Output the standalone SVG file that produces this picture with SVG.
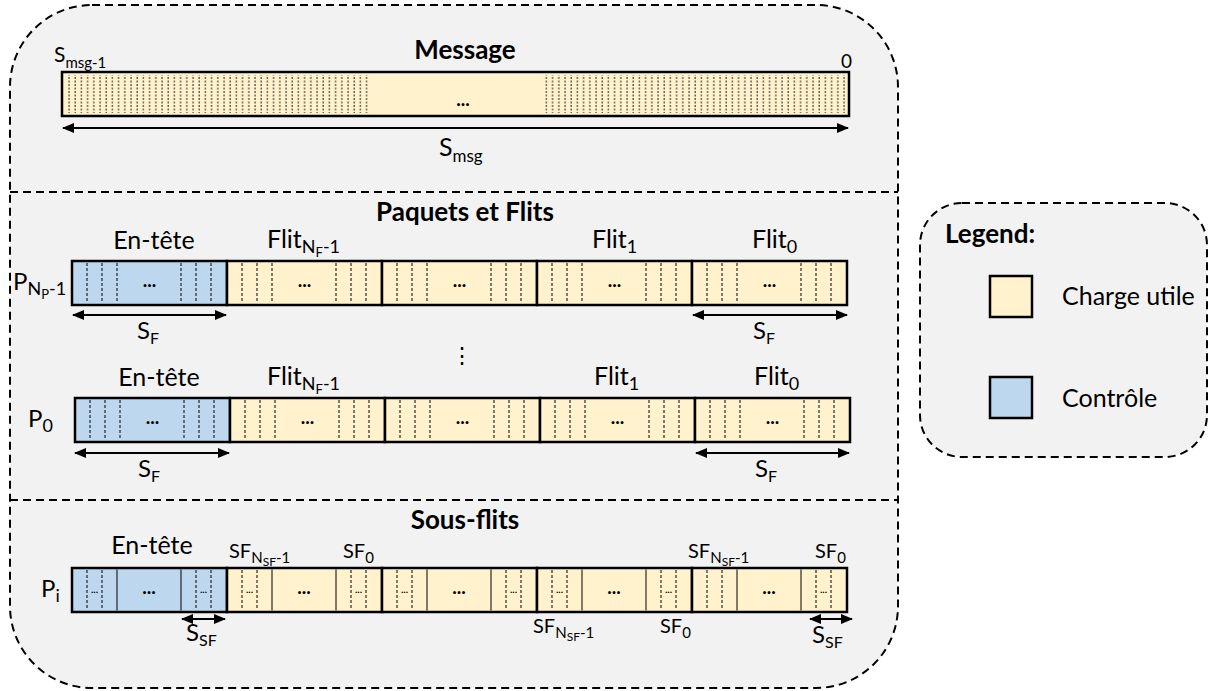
<svg xmlns="http://www.w3.org/2000/svg" width="1210" height="691" viewBox="0 0 1210 691">
<defs>
<style>
text{font-family:Lato,"Liberation Sans",sans-serif;fill:#000}
.title{font-weight:bold;font-size:26px}
.lbl{font-size:25px}
.sm{font-size:20px}
.leg{font-size:25px}
.dots{font-size:19px;font-weight:bold}
.tiny{font-size:10px;font-weight:bold}
.frame{fill:#f2f2f2;stroke:#000;stroke-width:2;stroke-dasharray:8 5}
.sep{fill:none;stroke:#000;stroke-width:2;stroke-dasharray:8 5}
.pay{fill:#fff2cc;stroke:#000;stroke-width:2.5}
.ctl{fill:#bdd7ee;stroke:#000;stroke-width:2.5}
.dl{fill:none;stroke:#000;stroke-width:1;stroke-dasharray:3 2}
.sl{fill:none;stroke:#000;stroke-width:1}
.arr{fill:none;stroke:#000;stroke-width:2;marker-start:url(#ah);marker-end:url(#ah)}
</style>
<marker id="ah" viewBox="0 0 12 10" refX="11" refY="5" markerWidth="12" markerHeight="10" markerUnits="userSpaceOnUse" orient="auto-start-reverse">
<path d="M0,0 L12,5 L0,10 z" fill="#000"/>
</marker>
<pattern id="msgdots" x="68" y="0" width="6.2" height="691" patternUnits="userSpaceOnUse">
<line x1="1" y1="0" x2="1" y2="691" stroke="#222" stroke-width="1" stroke-dasharray="2 1.5"/>
</pattern>
</defs>

<g id="container">
<rect class="frame" x="10" y="5" width="888" height="683" rx="82" ry="82"/>
<line class="sep" x1="10" y1="192" x2="898" y2="192"/>
<line class="sep" x1="10" y1="500" x2="898" y2="500"/>
</g>

<g id="message">
<text class="title" x="465" y="59" text-anchor="middle">Message</text>
<rect class="pay" x="62" y="72" width="787" height="44"/>
<rect x="67" y="75" width="302" height="38" fill="url(#msgdots)"/>
<rect x="545" y="75" width="301" height="38" fill="url(#msgdots)"/>
<text class="dots" x="463" y="106" text-anchor="middle">...</text>
<text x="54" y="62" font-size="21">S<tspan font-size="15" dy="6">msg-1</tspan></text>
<text x="841" y="68" font-size="19">0</text>
<text x="439" y="156" font-size="25">S<tspan font-size="17" dy="6">msg</tspan></text>
</g>

<g id="paquets">
<text class="title" x="465" y="221" text-anchor="middle">Paquets et Flits</text>
</g>

<g id="packet-np1">
<text x="13" y="290" font-size="24">P<tspan font-size="18" dy="5">N</tspan><tspan font-size="13" dy="4">P</tspan><tspan font-size="18" dy="-4">-1</tspan></text>
<text class="lbl" x="154" y="249" text-anchor="middle">En-tête</text>
<text class="lbl" x="267" y="248">Flit<tspan font-size="18" dy="5">N</tspan><tspan font-size="13" dy="4">F</tspan><tspan font-size="18" dy="-4">-1</tspan></text>
<text class="lbl" x="592" y="248">Flit<tspan font-size="18" dy="5">1</tspan></text>
<text class="lbl" x="752" y="248">Flit<tspan font-size="18" dy="5">0</tspan></text>
<rect class="ctl" x="72" y="261" width="155" height="44"/>
<rect class="pay" x="227" y="261" width="155" height="44"/>
<rect class="pay" x="382" y="261" width="155" height="44"/>
<rect class="pay" x="537" y="261" width="155" height="44"/>
<rect class="pay" x="692" y="261" width="155" height="44"/>
<path class="dl" d="M87,263V303M102,263V303M117,263V303M181,263V303M196,263V303M211,263V303M242,263V303M257,263V303M272,263V303M336,263V303M351,263V303M366,263V303M397,263V303M412,263V303M427,263V303M491,263V303M506,263V303M521,263V303M552,263V303M567,263V303M582,263V303M646,263V303M661,263V303M676,263V303M707,263V303M722,263V303M737,263V303M801,263V303M816,263V303M831,263V303"/>
<text class="dots" x="149.5" y="287" text-anchor="middle">...</text>
<text class="dots" x="304.5" y="287" text-anchor="middle">...</text>
<text class="dots" x="459.5" y="287" text-anchor="middle">...</text>
<text class="dots" x="614.5" y="287" text-anchor="middle">...</text>
<text class="dots" x="769.5" y="287" text-anchor="middle">...</text>
<text x="137" y="339" font-size="24">S<tspan font-size="16" dy="5">F</tspan></text>
<text x="753" y="339" font-size="24">S<tspan font-size="16" dy="5">F</tspan></text>
</g>

<g id="vdots">
<text x="462" y="363" text-anchor="middle" font-family="DejaVu Sans" font-size="22">⋮</text>
</g>

<g id="packet-0">
<text x="28" y="427" font-size="24">P<tspan font-size="18" dy="5">0</tspan></text>
<text class="lbl" x="159" y="386" text-anchor="middle">En-tête</text>
<text class="lbl" x="267" y="385">Flit<tspan font-size="18" dy="5">N</tspan><tspan font-size="13" dy="4">F</tspan><tspan font-size="18" dy="-4">-1</tspan></text>
<text class="lbl" x="594" y="385">Flit<tspan font-size="18" dy="5">1</tspan></text>
<text class="lbl" x="754" y="385">Flit<tspan font-size="18" dy="5">0</tspan></text>
<rect class="ctl" x="75" y="398" width="155" height="44"/>
<rect class="pay" x="230" y="398" width="155" height="44"/>
<rect class="pay" x="385" y="398" width="155" height="44"/>
<rect class="pay" x="540" y="398" width="155" height="44"/>
<rect class="pay" x="695" y="398" width="155" height="44"/>
<path class="dl" d="M90,400V440M105,400V440M120,400V440M184,400V440M199,400V440M214,400V440M245,400V440M260,400V440M275,400V440M339,400V440M354,400V440M369,400V440M400,400V440M415,400V440M430,400V440M494,400V440M509,400V440M524,400V440M555,400V440M570,400V440M585,400V440M649,400V440M664,400V440M679,400V440M710,400V440M725,400V440M740,400V440M804,400V440M819,400V440M834,400V440"/>
<text class="dots" x="152.5" y="424" text-anchor="middle">...</text>
<text class="dots" x="307.5" y="424" text-anchor="middle">...</text>
<text class="dots" x="462.5" y="424" text-anchor="middle">...</text>
<text class="dots" x="617.5" y="424" text-anchor="middle">...</text>
<text class="dots" x="772.5" y="424" text-anchor="middle">...</text>
<text x="138" y="477" font-size="24">S<tspan font-size="16" dy="5">F</tspan></text>
<text x="755" y="477" font-size="24">S<tspan font-size="16" dy="5">F</tspan></text>
</g>

<g id="sousflits">
<text class="title" x="465" y="529" text-anchor="middle">Sous-flits</text>
</g>

<g id="packet-i">
<text x="41" y="597" font-size="24">P<tspan font-size="18" dy="5">i</tspan></text>
<text class="lbl" x="152" y="554" text-anchor="middle">En-tête</text>
<text class="sm" x="229" y="558">SF<tspan font-size="15" dy="5">N</tspan><tspan font-size="12" dy="3">SF</tspan><tspan font-size="15" dy="-3">-1</tspan></text>
<text class="sm" x="343" y="558">SF<tspan font-size="15" dy="5">0</tspan></text>
<text class="sm" x="688" y="558">SF<tspan font-size="15" dy="5">N</tspan><tspan font-size="12" dy="3">SF</tspan><tspan font-size="15" dy="-3">-1</tspan></text>
<text class="sm" x="815" y="558">SF<tspan font-size="15" dy="5">0</tspan></text>
<text class="sm" x="533" y="633">SF<tspan font-size="15" dy="5">N</tspan><tspan font-size="12" dy="3">SF</tspan><tspan font-size="15" dy="-3">-1</tspan></text>
<text class="sm" x="660" y="633">SF<tspan font-size="15" dy="5">0</tspan></text>
<rect class="ctl" x="72" y="568" width="155" height="44"/>
<rect class="pay" x="227" y="568" width="155" height="44"/>
<rect class="pay" x="382" y="568" width="155" height="44"/>
<rect class="pay" x="537" y="568" width="155" height="44"/>
<rect class="pay" x="692" y="568" width="155" height="44"/>
<path class="sl" d="M117,569.5V610.5M181,569.5V610.5M272,569.5V610.5M336,569.5V610.5M427,569.5V610.5M491,569.5V610.5M582,569.5V610.5M646,569.5V610.5M737,569.5V610.5M801,569.5V610.5"/>
<path class="dl" d="M87,570V610M102,570V610M196,570V610M211,570V610M242,570V610M257,570V610M351,570V610M366,570V610M397,570V610M412,570V610M506,570V610M521,570V610M552,570V610M567,570V610M661,570V610M676,570V610M707,570V610M722,570V610M816,570V610M831,570V610"/>
<text class="dots" x="149" y="594" text-anchor="middle">...</text>
<text class="dots" x="304" y="594" text-anchor="middle">...</text>
<text class="dots" x="459" y="594" text-anchor="middle">...</text>
<text class="dots" x="614" y="594" text-anchor="middle">...</text>
<text class="dots" x="769" y="594" text-anchor="middle">...</text>
<text class="tiny" x="94.5" y="593" text-anchor="middle">...</text>
<text class="tiny" x="203.5" y="593" text-anchor="middle">...</text>
<text class="tiny" x="249.5" y="593" text-anchor="middle">...</text>
<text class="tiny" x="358.5" y="593" text-anchor="middle">...</text>
<text class="tiny" x="404.5" y="593" text-anchor="middle">...</text>
<text class="tiny" x="513.5" y="593" text-anchor="middle">...</text>
<text class="tiny" x="559.5" y="593" text-anchor="middle">...</text>
<text class="tiny" x="668.5" y="593" text-anchor="middle">...</text>
<text class="tiny" x="823.5" y="593" text-anchor="middle">...</text>
<text x="186" y="641" font-size="24">S<tspan font-size="16" dy="5">SF</tspan></text>
<text x="812" y="643" font-size="24">S<tspan font-size="16" dy="5">SF</tspan></text>
</g>

<g id="connectors">
<line class="arr" x1="63" y1="128" x2="848" y2="128"/>
<line class="arr" x1="73" y1="315" x2="226" y2="315"/>
<line class="arr" x1="693" y1="315" x2="847" y2="315"/>
<line class="arr" x1="75" y1="453" x2="229" y2="453"/>
<line class="arr" x1="696" y1="453" x2="849" y2="453"/>
<line class="arr" x1="182" y1="619" x2="225" y2="619"/>
<line class="arr" x1="810" y1="619" x2="852" y2="619"/>
</g>

<g id="legend">
<rect class="frame" x="920" y="203" width="287" height="254" rx="42" ry="42"/>
<text class="title" x="945" y="243">Legend:</text>
<rect class="pay" x="990" y="276" width="42" height="41"/>
<text class="leg" x="1062" y="305">Charge utile</text>
<rect class="ctl" x="990" y="377" width="42" height="41"/>
<text class="leg" x="1062" y="407">Contrôle</text>
</g>
</svg>
